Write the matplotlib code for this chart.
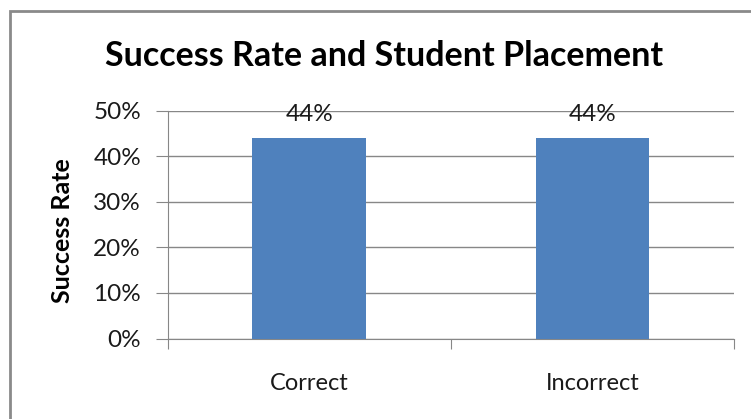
import matplotlib
matplotlib.use("Agg")
import matplotlib.pyplot as plt
from matplotlib.patches import Rectangle
from matplotlib.ticker import PercentFormatter

categories = ["Correct", "Incorrect"]
success_rate = [0.44, 0.44]
rate_labels = ["44%", "44%"]
yticks = [0.0, 0.1, 0.2, 0.3, 0.4, 0.5]

plt.rcParams['font.family'] = ['Lato', 'DejaVu Sans']
grid_col = '#878787'
bar_col = '#4F81BD'
txt_col = '#1a1a1a'

fig = plt.figure(figsize=(7.51, 4.19), dpi=100)
# outer chart frame (runs off right/bottom like the screenshot)
fig.patches.append(Rectangle((9.5/751, -0.1), 1.2, 1 - 11.5/419 + 0.1, transform=fig.transFigure,
                             fill=False, edgecolor='#8a8a8a', lw=2.0))

ax = fig.add_axes([167.5/751, 1 - 338.5/419, (734 - 167.5)/751, (338.5 - 110.7)/419])
x = range(len(categories))
ax.bar(x, success_rate, width=0.40, color=bar_col, zorder=3)
ax.set_xlim(-0.5, len(categories) - 0.5)
ax.set_ylim(0, 0.5)
ax.set_yticks(yticks)
ax.yaxis.set_major_formatter(PercentFormatter(1.0, decimals=0))
ax.grid(axis='y', color=grid_col, lw=1, zorder=0)

for s in ['top', 'right']:
    ax.spines[s].set_visible(False)
for s in ['left', 'bottom']:
    ax.spines[s].set_color(grid_col)
ax.set_xticks([-0.5, 0.5, 1.5], minor=False)
ax.set_xticklabels([])
ax.set_xticks(list(x), minor=True)
ax.set_xticklabels(categories, minor=True)
ax.tick_params(axis='x', which='major', length=7, color=grid_col, direction='out')
ax.tick_params(axis='x', which='minor', length=0, pad=25, labelsize=17, labelcolor=txt_col)
ax.tick_params(axis='y', length=9, color=grid_col, labelsize=17.5, labelcolor=txt_col, pad=10)

for xi, v, lab in zip(x, success_rate, rate_labels):
    ax.annotate(lab, (xi, v), xytext=(0, 12.2), textcoords='offset points',
                ha='center', va='baseline', fontsize=17.5, color=txt_col, zorder=4)

fig.text(63/751, 1 - 231/419, "Success Rate", rotation=90, ha='center', va='center',
         fontsize=18, fontweight='bold')
fig.text(384/751, 1 - 56/419, "Success Rate and Student Placement", ha='center', va='center',
         fontsize=24.5, fontweight='bold')

fig.savefig("out.png", dpi=100)
